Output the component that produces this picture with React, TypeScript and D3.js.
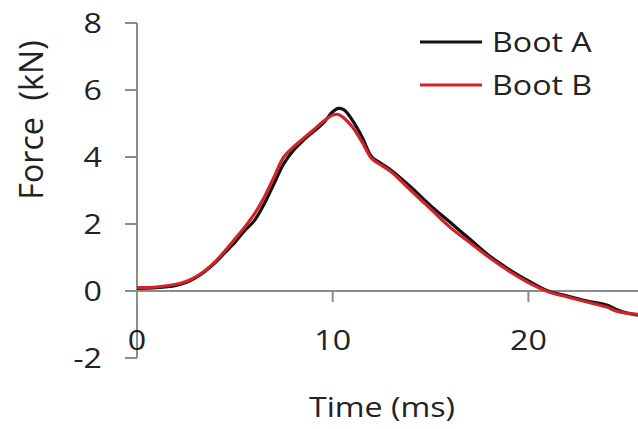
import React from 'react';
import * as d3 from 'd3';

// Impact force traces
const timeMs = [0, 1, 2, 2.5, 3, 3.5, 4, 4.5, 5, 5.5, 6, 6.5, 7, 7.5, 8, 8.5, 9, 9.5, 10, 10.3, 10.6, 11, 11.5, 12, 12.5, 13, 14, 15, 16, 17, 18, 19, 20, 21, 22, 23, 24, 24.5, 25, 25.6];
const bootA = [0.08, 0.1, 0.17, 0.25, 0.4, 0.6, 0.85, 1.15, 1.45, 1.8, 2.1, 2.6, 3.2, 3.8, 4.2, 4.5, 4.75, 5.0, 5.35, 5.45, 5.4, 5.1, 4.6, 4.0, 3.8, 3.6, 3.1, 2.55, 2.05, 1.55, 1.05, 0.65, 0.3, 0.0, -0.15, -0.3, -0.42, -0.55, -0.65, -0.72];
const bootB = [0.1, 0.12, 0.2, 0.28, 0.42, 0.62, 0.88, 1.2, 1.55, 1.9, 2.3, 2.8, 3.4, 4.0, 4.3, 4.55, 4.8, 5.05, 5.25, 5.27, 5.15, 4.9, 4.45, 3.95, 3.75, 3.55, 3.0, 2.45, 1.9, 1.45, 1.0, 0.6, 0.25, -0.02, -0.18, -0.33, -0.48, -0.6, -0.66, -0.7];

const yTicks = [-2, 0, 2, 4, 6, 8];
const xTicks = [0, 10, 20];
const seriesNames = ['Boot A', 'Boot B'];
const seriesColors = ['#111111', '#d2232a'];

const W = 638;
const H = 429;
const FONT = '"Open Sans", Lato, sans-serif';
const FS = 28;
const STRETCH = 1.15; // reference glyphs look horizontally stretched

// text stretched horizontally around its anchor point
const Label: React.FC<{
  x: number;
  y: number;
  anchor?: 'start' | 'middle' | 'end';
  rotate?: number;
  children: React.ReactNode;
}> = ({ x, y, anchor = 'start', rotate = 0, children }) => (
  <g transform={`translate(${x},${y}) rotate(${rotate}) scale(${STRETCH},1)`}>
    <text
      dy="0.35em"
      textAnchor={anchor}
      fontSize={FS}
      fill="#222"
      style={{ whiteSpace: 'pre' }}
    >
      {children}
    </text>
  </g>
);

export default function App() {
  const x = d3.scaleLinear().domain([0, 25.6]).range([137, 638]);
  const y = d3.scaleLinear().domain([-2, 8]).range([358, 23]);

  const line = d3
    .line<number>()
    .x((_, i) => x(timeMs[i]))
    .y((d) => y(d))
    .curve(d3.curveCatmullRom);

  const series = [bootA, bootB];

  return (
    <svg
      width={W}
      height={H}
      style={{ position: 'absolute', left: 0, top: 0, background: '#fff' }}
      fontFamily={FONT}
    >
      {/* y axis */}
      <line x1={x(0)} x2={x(0)} y1={y(8)} y2={y(-2)} stroke="#8c8c8c" strokeWidth={2} />
      {yTicks.map((t) => (
        <g key={t}>
          <line x1={x(0) - 12} x2={x(0)} y1={y(t)} y2={y(t)} stroke="#8c8c8c" strokeWidth={2} />
          <Label x={x(0) - 35} y={y(t)} anchor="end">
            {String(t)}
          </Label>
        </g>
      ))}
      {/* x axis at zero */}
      <line x1={x(0)} x2={W} y1={y(0)} y2={y(0)} stroke="#8c8c8c" strokeWidth={2} />
      {xTicks.map((t) => (
        <g key={t}>
          <line x1={x(t)} x2={x(t)} y1={y(0)} y2={y(0) + 11} stroke="#8c8c8c" strokeWidth={2} />
          <Label x={x(t)} y={340} anchor="middle">
            {String(t)}
          </Label>
        </g>
      ))}

      {series.map((s, i) => (
        <path key={i} d={line(s) || ''} fill="none" stroke={seriesColors[i]} strokeWidth={3.2} />
      ))}

      {/* axis titles */}
      <Label x={382} y={407} anchor="middle">
        Time (ms)
      </Label>
      <g transform="translate(32,120) rotate(-90)">
        <text dy="0.35em" textAnchor="middle" fontSize={FS * STRETCH} fill="#222" style={{ whiteSpace: 'pre' }}>
          {'Force  (kN)'}
        </text>
      </g>

      {/* legend */}
      {seriesNames.map((name, i) => (
        <g key={name}>
          <line
            x1={420}
            x2={482}
            y1={42 + i * 43}
            y2={42 + i * 43}
            stroke={seriesColors[i]}
            strokeWidth={3.2}
          />
          <Label x={492} y={42 + i * 43}>
            {name}
          </Label>
        </g>
      ))}
    </svg>
  );
}
